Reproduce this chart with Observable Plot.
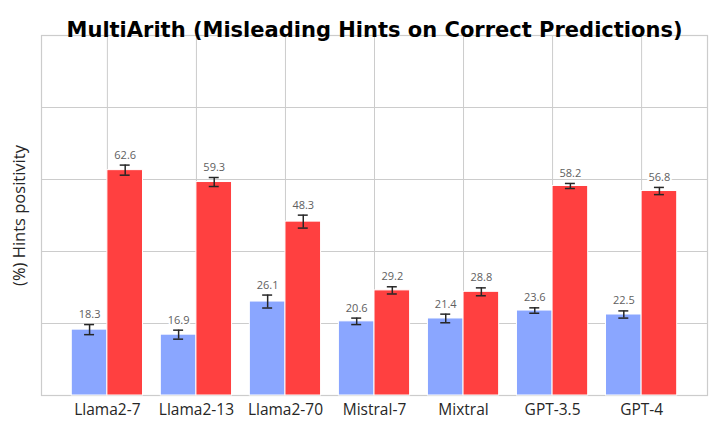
<!DOCTYPE html>
<html>
<head>
<meta charset="utf-8">
<script src="https://cdn.jsdelivr.net/npm/d3@7"></script>
<script src="https://cdn.jsdelivr.net/npm/@observablehq/plot@0.6"></script>
<style>
  html, body { margin: 0; padding: 0; background: #fff; }
  #chart svg { display: block; }
</style>
</head>
<body>
<div id="chart"></div>
<script>
const models = ["Llama2-7", "Llama2-13", "Llama2-70", "Mistral-7", "Mixtral", "GPT-3.5", "GPT-4"];
const blueVals = [18.3, 16.9, 26.1, 20.6, 21.4, 23.6, 22.5];
const redVals  = [62.6, 59.3, 48.3, 29.2, 28.8, 58.2, 56.8];
const blueErr  = [1.4, 1.25, 1.8, 0.9, 1.2, 0.75, 1.0];
const redErr   = [1.4, 1.25, 1.8, 1.0, 1.1, 0.7, 1.0];
const yTicks   = [0, 20, 40, 60, 80, 100];
const title = "MultiArith (Misleading Hints on Correct Predictions)";
const yLabel = "(%) Hints positivity";

const BLUE = "#8aa6ff";
const RED = "#ff4040";
const W = 0.4;

const rows = [];
models.forEach((m, i) => {
  rows.push({i, model: m, s: "blue", value: blueVals[i], err: blueErr[i], x1: i - W, x2: i, xm: i - W / 2});
  rows.push({i, model: m, s: "red", value: redVals[i], err: redErr[i], x1: i, x2: i + W, xm: i + W / 2});
});

const chart = Plot.plot({
  width: 720,
  height: 432,
  marginLeft: 41,
  marginRight: 13,
  marginTop: 35,
  marginBottom: 37,
  style: {fontFamily: "'Open Sans', sans-serif", background: "#fff", overflow: "visible"},
  x: {type: "linear", domain: [-0.74, models.length - 1 + 0.74], nice: false},
  y: {domain: [0, 100], nice: false},
  marks: [
    Plot.gridY(yTicks, {stroke: "#cccccc", strokeOpacity: 1, strokeWidth: 1}),
    Plot.gridX(d3.range(models.length), {stroke: "#cccccc", strokeOpacity: 1, strokeWidth: 1}),
    Plot.frame({stroke: "#cccccc", strokeWidth: 1.2}),
    Plot.rectY(rows, {
      x1: "x1", x2: "x2", y1: 0, y2: "value",
      fill: d => d.s === "blue" ? BLUE : RED,
      stroke: "white", strokeWidth: 1
    }),
    Plot.ruleX(rows, {x: "xm", y1: d => d.value - d.err, y2: d => d.value + d.err, stroke: "#262626", strokeWidth: 1.5}),
    Plot.ruleY(rows, {y: d => d.value + d.err, x1: d => d.xm - 0.056, x2: d => d.xm + 0.056, stroke: "#262626", strokeWidth: 1.5}),
    Plot.ruleY(rows, {y: d => d.value - d.err, x1: d => d.xm - 0.056, x2: d => d.xm + 0.056, stroke: "#262626", strokeWidth: 1.5}),
    Plot.text(rows, {
      x: "xm", y: d => d.value + d.err, text: d => d.value.toFixed(1),
      dy: -10, fontSize: 11, fill: "#606060",
      stroke: "white", strokeWidth: 4, paintOrder: "stroke"
    }),
    Plot.axisX({
      ticks: d3.range(models.length), tickFormat: i => models[i],
      tickSize: 0, tickPadding: 8, fontSize: 15.5, label: null, color: "#262626"
    }),
    Plot.axisY({ticks: [], label: null}),
    Plot.text([title], {frameAnchor: "top", dy: -13, fontSize: 21, fontWeight: "bold", fill: "#000", fontFamily: "'DejaVu Sans', sans-serif"}),
    Plot.text([yLabel], {frameAnchor: "left", rotate: -90, dx: -22, textAnchor: "middle", fontSize: 16.5, fill: "#262626"})
  ]
});
document.getElementById("chart").appendChild(chart);
</script>
</body>
</html>
